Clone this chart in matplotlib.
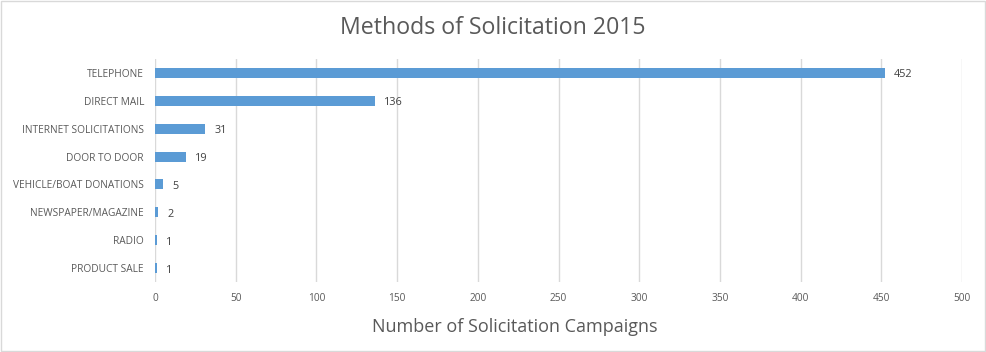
import matplotlib
matplotlib.use("Agg")
import matplotlib.pyplot as plt
from matplotlib.patches import Rectangle

categories = ["TELEPHONE", "DIRECT MAIL", "INTERNET SOLICITATIONS", "DOOR TO DOOR",
              "VEHICLE/BOAT DONATIONS", "NEWSPAPER/MAGAZINE", "RADIO", "PRODUCT SALE"]
values = [452, 136, 31, 19, 5, 2, 1, 1]
xticks = [0, 50, 100, 150, 200, 250, 300, 350, 400, 450, 500]

plt.rcParams['font.family'] = ['Open Sans', 'DejaVu Sans']
txt = '#595959'

fig = plt.figure(figsize=(9.87, 3.52), dpi=100)
ax = fig.add_axes([155/987, 1-282/352, (962-155)/987, (282-59)/352])

y = list(range(len(categories)))[::-1]
ax.barh(y, values, height=0.36, color='#5B9BD5', zorder=3)
for yi, v in zip(y, values):
    ax.text(v + 6, yi - 0.07, str(v), va='center', ha='left', fontsize=7.8, color='#404040')

ax.set_xlim(0, 500)
ax.set_ylim(-0.5, len(categories) - 0.5)
ax.set_yticks(y)
ax.set_yticklabels(categories, fontsize=7.3, color=txt)
ax.set_xticks(xticks)
ax.set_xticklabels([str(t) for t in xticks], fontsize=7.3, color=txt)
ax.tick_params(axis='both', length=0, pad=8)
ax.tick_params(axis='y', pad=8)
ax.xaxis.grid(True, color='#D9D9D9', linewidth=1, zorder=0)
for s in ax.spines.values():
    s.set_visible(False)

fig.text(515/987, 1-327/352, "Number of Solicitation Campaigns", ha='center', va='center',
         fontsize=13, color=txt)
fig.text(493/987, 1-28/352, "Methods of Solicitation 2015", ha='center', va='center',
         fontsize=16.7, color=txt)

fig.patches.append(Rectangle((0.001, 0.002), 0.997, 0.995, transform=fig.transFigure,
                             fill=False, edgecolor='#D9D9D9', linewidth=1))
fig.savefig("out.png", dpi=100)
